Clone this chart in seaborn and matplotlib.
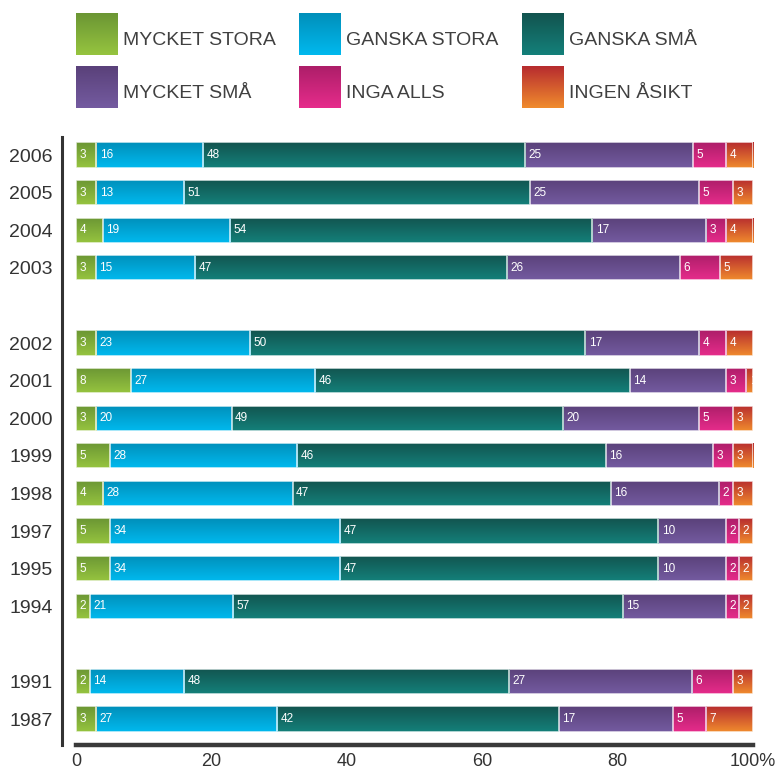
import numpy as np
import pandas as pd
import matplotlib
import matplotlib.pyplot as plt
import seaborn as sns
from matplotlib.colors import LinearSegmentedColormap
from matplotlib.patches import Rectangle

sns.set_theme(style='white')
plt.rcParams['font.family'] = ['Liberation Sans', 'DejaVu Sans']

years = ['2006', '2005', '2004', '2003', '2002', '2001', '2000', '1999',
         '1998', '1997', '1995', '1994', '1991', '1987']
mycket_stora = [3, 3, 4, 3, 3, 8, 3, 5, 4, 5, 5, 2, 2, 3]
ganska_stora = [16, 13, 19, 15, 23, 27, 20, 28, 28, 34, 34, 21, 14, 27]
ganska_sma = [48, 51, 54, 47, 50, 46, 49, 46, 47, 47, 47, 57, 48, 42]
mycket_sma = [25, 25, 17, 26, 17, 14, 20, 16, 16, 10, 10, 15, 27, 17]
inga_alls = [5, 5, 3, 6, 4, 3, 5, 3, 2, 2, 2, 2, 6, 5]
ingen_asikt = [4, 3, 4, 5, 4, 1, 3, 3, 3, 2, 2, 2, 3, 7]

names = ['MYCKET STORA', 'GANSKA STORA', 'GANSKA SMÅ', 'MYCKET SMÅ', 'INGA ALLS', 'INGEN ÅSIKT']
# gradient colours, top -> bottom
grads = [('#6b9634', '#96c43f'), ('#008fba', '#00b9ee'), ('#12544f', '#14807a'),
         ('#5a417a', '#745ba0'), ('#ad1e69', '#e62c8b'), ('#b72c2f', '#f08b2d')]

# blank slots give the gaps between the year groups
order = ['2006', '2005', '2004', '2003', '_a', '2002', '2001', '2000', '1999',
         '1998', '1997', '1995', '1994', '_b', '1991', '1987']

df = pd.DataFrame(dict(zip(names, [mycket_stora, ganska_stora, ganska_sma,
                                   mycket_sma, inga_alls, ingen_asikt])), index=years)
pct = df.div(df.sum(axis=1), axis=0) * 100
cum = pct.cumsum(axis=1)

W, H = 779, 775
fig = plt.figure(figsize=(W / 100, H / 100), dpi=100)
ax = fig.add_axes([76 / W, 1 - 745 / H, (753 - 76) / W, (745 - 137) / H])

grad = np.linspace(0, 1, 64).reshape(-1, 1)
cmaps = [LinearSegmentedColormap.from_list('g%d' % i, g) for i, g in enumerate(grads)]

# stacked bars: longest cumulative first, shorter ones drawn on top
for i in reversed(range(len(names))):
    n0 = len(ax.patches)
    sns.barplot(x=cum[names[i]].values, y=years, order=order, orient='h',
                color=grads[i][1], width=0.67, saturation=1, errorbar=None,
                linewidth=0, ax=ax)
    z = 2 + (len(names) - i)
    for p in list(ax.patches[n0:]):
        p.set_zorder(z)
        x0, y0, w, h = p.get_x(), p.get_y(), p.get_width(), p.get_height()
        im = ax.imshow(grad, cmap=cmaps[i], extent=(x0, x0 + w, y0 + h, y0),
                       aspect='auto', zorder=z + 0.1, interpolation='bilinear')
        im.set_clip_path(p)
        ax.add_patch(Rectangle((x0, y0), w, h, fill=False, ec=(1, 1, 1, 0.8),
                               lw=1.2, zorder=z + 0.2))

# value labels at the start of each segment
for yr in years:
    pos = order.index(yr)
    start = 0
    for name in names:
        ax.annotate(str(df.loc[yr, name]), (start, pos), xytext=(2.5, 0),
                    textcoords='offset points', ha='left', va='center',
                    color='white', fontsize=8.5, zorder=30)
        start = cum.loc[yr, name]

ax.set_xlim(0, 100)
ax.set_ylim(15.69, -0.48)
ax.set_xlabel('')
ax.set_ylabel('')
ax.set_xticks([0, 20, 40, 60, 80, 100])
ax.set_xticklabels(['0', '20', '40', '60', '80', '100%'])
ax.set_yticks(range(len(order)))
ax.set_yticklabels(['' if o.startswith('_') else o for o in order])
ax.tick_params(length=0, colors='#333333')
ax.tick_params(axis='y', labelsize=14, pad=7)
ax.tick_params(axis='x', labelsize=13, pad=6)

for s in ['top', 'right']:
    ax.spines[s].set_visible(False)
ax.spines['left'].set_position(('outward', 10))
ax.spines['left'].set_linewidth(2.2)
ax.spines['left'].set_color('#333333')
ax.spines['bottom'].set_linewidth(3.2)
ax.spines['bottom'].set_color('#3a3a3a')

# legend drawn in a pixel-space overlay
lax = fig.add_axes([0, 0, 1, 1])
lax.patch.set_alpha(0)
for k, name in enumerate(names):
    bx = 76 + (k % 3) * 223
    by = 13 + (k // 3) * 53
    lax.imshow(grad, cmap=cmaps[k], extent=(bx, bx + 42, by + 42, by),
               aspect='auto', interpolation='bilinear')
    lax.text(bx + 47, by + 32, name, fontsize=14, color='#404040', va='baseline')
lax.set_xlim(0, W)
lax.set_ylim(H, 0)
lax.axis('off')

fig.savefig('out.png', dpi=100)
